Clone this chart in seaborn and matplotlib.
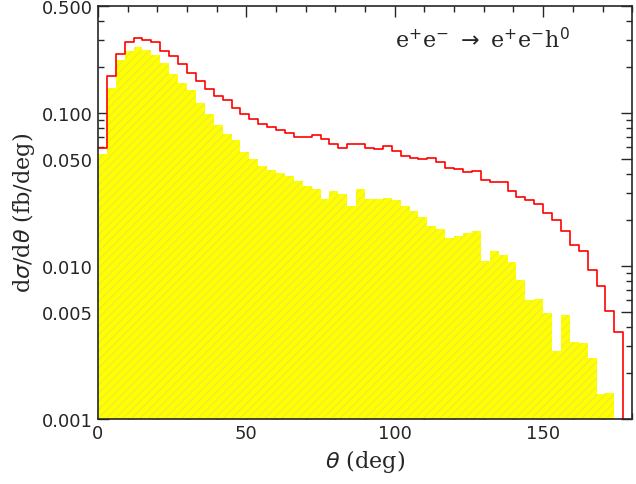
import numpy as np
import pandas as pd
import matplotlib.pyplot as plt
import seaborn as sns
from matplotlib.ticker import FixedLocator, MultipleLocator, LogLocator, NullFormatter

sns.set_style("ticks")
plt.rcParams['font.family'] = ['DejaVu Sans']

centers = np.arange(1.5, 180, 3)

# total (red step), 3 deg bins
total = [0.059, 0.174, 0.243, 0.292, 0.307, 0.301, 0.292, 0.255, 0.235, 0.208,
         0.183, 0.161, 0.144, 0.129, 0.122, 0.108, 0.0985, 0.0913, 0.0839, 0.0806,
         0.077, 0.074, 0.0697, 0.0697, 0.0718, 0.0673, 0.063, 0.059, 0.063, 0.063,
         0.059, 0.0577, 0.0603, 0.0562, 0.0519, 0.0506, 0.0496, 0.0506, 0.0478, 0.0433,
         0.0428, 0.0408, 0.0414, 0.0365, 0.0351, 0.0354, 0.0308, 0.0284, 0.0268, 0.0254,
         0.0222, 0.0198, 0.0170, 0.0136, 0.0126, 0.00945, 0.00742, 0.00511, 0.00372, 0.0]
# cut sample (yellow)
cut = [0.054, 0.145, 0.22, 0.255, 0.27, 0.258, 0.24, 0.212, 0.18, 0.157,
       0.141, 0.116, 0.0975, 0.0827, 0.073, 0.066, 0.0553, 0.05, 0.0448, 0.042,
       0.0403, 0.0386, 0.0361, 0.0335, 0.0318, 0.0272, 0.0308, 0.0296, 0.0248, 0.0318,
       0.0272, 0.0275, 0.0277, 0.0268, 0.0245, 0.023, 0.0208, 0.0181, 0.0175, 0.0152,
       0.0156, 0.0163, 0.0169, 0.0108, 0.0126, 0.0118, 0.0106, 0.0081, 0.0060, 0.0061,
       0.0049, 0.0028, 0.0048, 0.0032, 0.00315, 0.0025, 0.00145, 0.00147, 0.0, 0.0]

df = pd.DataFrame({"theta": centers, "total": total, "cut": cut})

fig = plt.figure(figsize=(6.36, 4.85), dpi=100)
ax = fig.add_axes([0.154, 0.134, 0.84, 0.852])

sns.histplot(data=df, x="theta", weights="cut", binwidth=3, binrange=(0, 180),
             element="bars", color="#ffff00", alpha=1, edgecolor="none", linewidth=0, ax=ax)
for p in ax.patches:
    p.set_hatch("////")
    p.set_edgecolor("#eeee30")
    p.set_linewidth(0)
sns.histplot(data=df, x="theta", weights="total", binwidth=3, binrange=(0, 180),
             element="step", fill=False, color="red", linewidth=1.2, ax=ax)

ax.set_yscale("log")
ax.set_xlim(0, 180)
ax.set_ylim(0.001, 0.5)
yt = [0.001, 0.005, 0.010, 0.050, 0.100, 0.500]
ax.yaxis.set_major_locator(FixedLocator(yt))
ax.set_yticklabels(["%.3f" % v for v in yt])
ax.yaxis.set_minor_locator(LogLocator(subs=np.arange(2, 10)))
ax.yaxis.set_minor_formatter(NullFormatter())
ax.xaxis.set_major_locator(MultipleLocator(50))
ax.xaxis.set_minor_locator(MultipleLocator(10))
ax.tick_params(which="both", direction="in", top=True, right=True, labelsize=13)
ax.tick_params(which="major", length=8, width=1)
ax.tick_params(which="minor", length=4, width=1)
for s in ax.spines.values():
    s.set_linewidth(1.2)

ax.set_xlabel(r"$\theta$ (deg)", fontsize=16, family="DejaVu Serif")
ax.set_ylabel(r"d$\sigma$/d$\theta$ (fb/deg)", fontsize=16, family="DejaVu Serif")
ax.text(0.72, 0.9, r"e$^{+}$e$^{-}$ $\rightarrow$ e$^{+}$e$^{-}$h$^{0}$", transform=ax.transAxes,
        ha="center", fontsize=16, family="DejaVu Serif")

fig.savefig("out.png", dpi=100)
